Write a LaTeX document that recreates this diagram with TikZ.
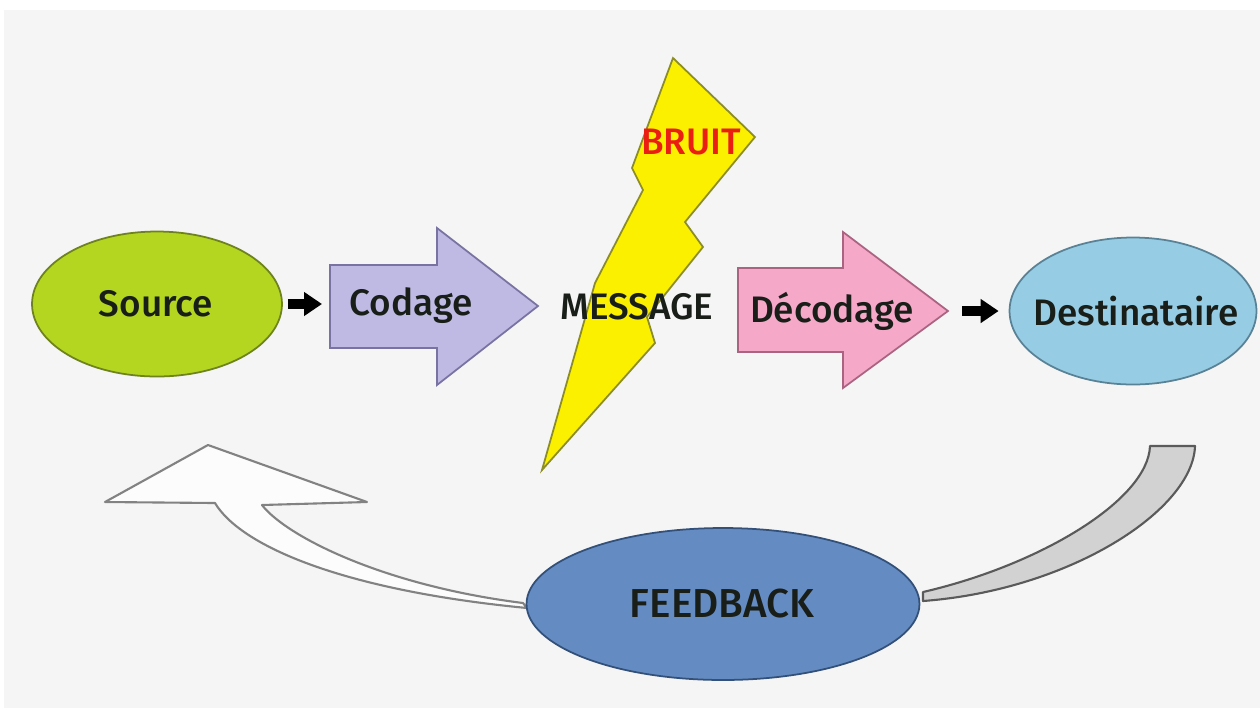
\documentclass[tikz,border=0pt]{standalone}
\usepackage{fontspec}
\setmainfont{Fira Sans}
\newfontfamily\medfont{Fira Sans Medium}
\usetikzlibrary{shapes.geometric,arrows.meta}
\definecolor{bgc}{RGB}{245,245,245}
\definecolor{srcF}{RGB}{181,214,32}
\definecolor{srcB}{RGB}{110,130,30}
\definecolor{codF}{RGB}{190,186,228}
\definecolor{codB}{RGB}{120,115,160}
\definecolor{decF}{RGB}{245,168,200}
\definecolor{decB}{RGB}{170,100,130}
\definecolor{dstF}{RGB}{150,205,228}
\definecolor{dstB}{RGB}{90,130,150}
\definecolor{fbF}{RGB}{100,140,195}
\definecolor{fbB}{RGB}{50,80,120}
\definecolor{boltF}{RGB}{250,240,0}
\definecolor{boltB}{RGB}{140,140,40}
\definecolor{bruitC}{RGB}{235,30,20}
\definecolor{ribF}{RGB}{210,210,210}
\definecolor{ribB}{RGB}{90,90,90}
\definecolor{wF}{RGB}{252,252,252}
\definecolor{wB}{RGB}{130,130,130}
\definecolor{txt}{RGB}{25,30,25}
\tikzset{
  oval/.style={ellipse, line width=1pt, inner sep=0pt},
  lbl/.style={text=txt, inner sep=0pt, font=\medfont\fontsize{21}{25}\selectfont},
  fatarrow/.style={line width=0.2cm, -{Triangle[length=0.36cm,width=0.46cm]}},
  bigarrow/.style={line width=1pt, line join=miter}
}
\begin{document}
\begin{tikzpicture}[x=0.02cm,y=-0.02cm]
\useasboundingbox (0,0) rectangle (1260,708);
\fill[white] (0,0) rectangle (1260,708);
\fill[bgc] (4,10) rectangle (1260,708);

% feedback arrows
\draw[line width=1.2pt, draw=wB, fill=wF, line join=round]
  (105,502) -- (208,445) -- (367,502) -- (262,505)
  .. controls (285,535) and (380,585) .. (523,603)
  -- (527,608)
  .. controls (340,590) and (240,545) .. (215,503) -- cycle;
\draw[line width=1.2pt, draw=ribB, fill=ribF, line join=round]
  (1150,446) -- (1195,446)
  .. controls (1193,510) and (1070,590) .. (923,601)
  -- (923,592)
  .. controls (1040,565) and (1148,500) .. cycle;

% nodes
\node[oval, draw=srcB, fill=srcF, minimum width=5.0cm, minimum height=2.9cm] (source) at (157,304) {};
\node[lbl] (sourcet) at (156,304) {Source};

\draw[bigarrow, draw=codB, fill=codF]
  (330,265) -- (437,265) -- (437,228) -- (538,306) -- (437,385) -- (437,348) -- (330,348) -- cycle;
\coordinate (codin) at (330,304);
\node[lbl] (codage) at (411,306) {Codage};

\draw[bigarrow, draw=decB, fill=decF]
  (738,268) -- (843,268) -- (843,232) -- (948,311) -- (843,388) -- (843,352) -- (738,352) -- cycle;
\coordinate (decout) at (948,311);
\node[lbl] (decodage) at (832,311) {Décodage};

\node[oval, draw=dstB, fill=dstF, minimum width=4.94cm, minimum height=2.94cm] (dest) at (1133,311) {};
\node[lbl] (destt) at (1136,311) {Destinataire};

\draw[fatarrow, shorten <=0.1cm, shorten >=0.16cm] (source) -- (codin);
\draw[fatarrow, shorten <=0.28cm, shorten >=0.2cm] (decout) -- (dest);

% bolt
\draw[line width=1pt, draw=boltB, fill=boltF, line join=miter]
  (673,58) -- (755,137) -- (685,222) -- (703,247) -- (647,317) -- (655,343)
  -- (542,470) -- (595,283) -- (643,190) -- (632,168) -- cycle;
\node[lbl, text=bruitC] (bruit) at (691,142) {BRUIT};
\node[lbl] (message) at (637,307) {MESSAGE};

\node[oval, draw=fbB, fill=fbF, minimum width=7.86cm, minimum height=3.04cm] (feedback) at (723,604) {};
\node[lbl, font=\medfont\fontsize{23}{27}\selectfont] (fbt) at (722,604) {FEEDBACK};
\end{tikzpicture}
\end{document}
